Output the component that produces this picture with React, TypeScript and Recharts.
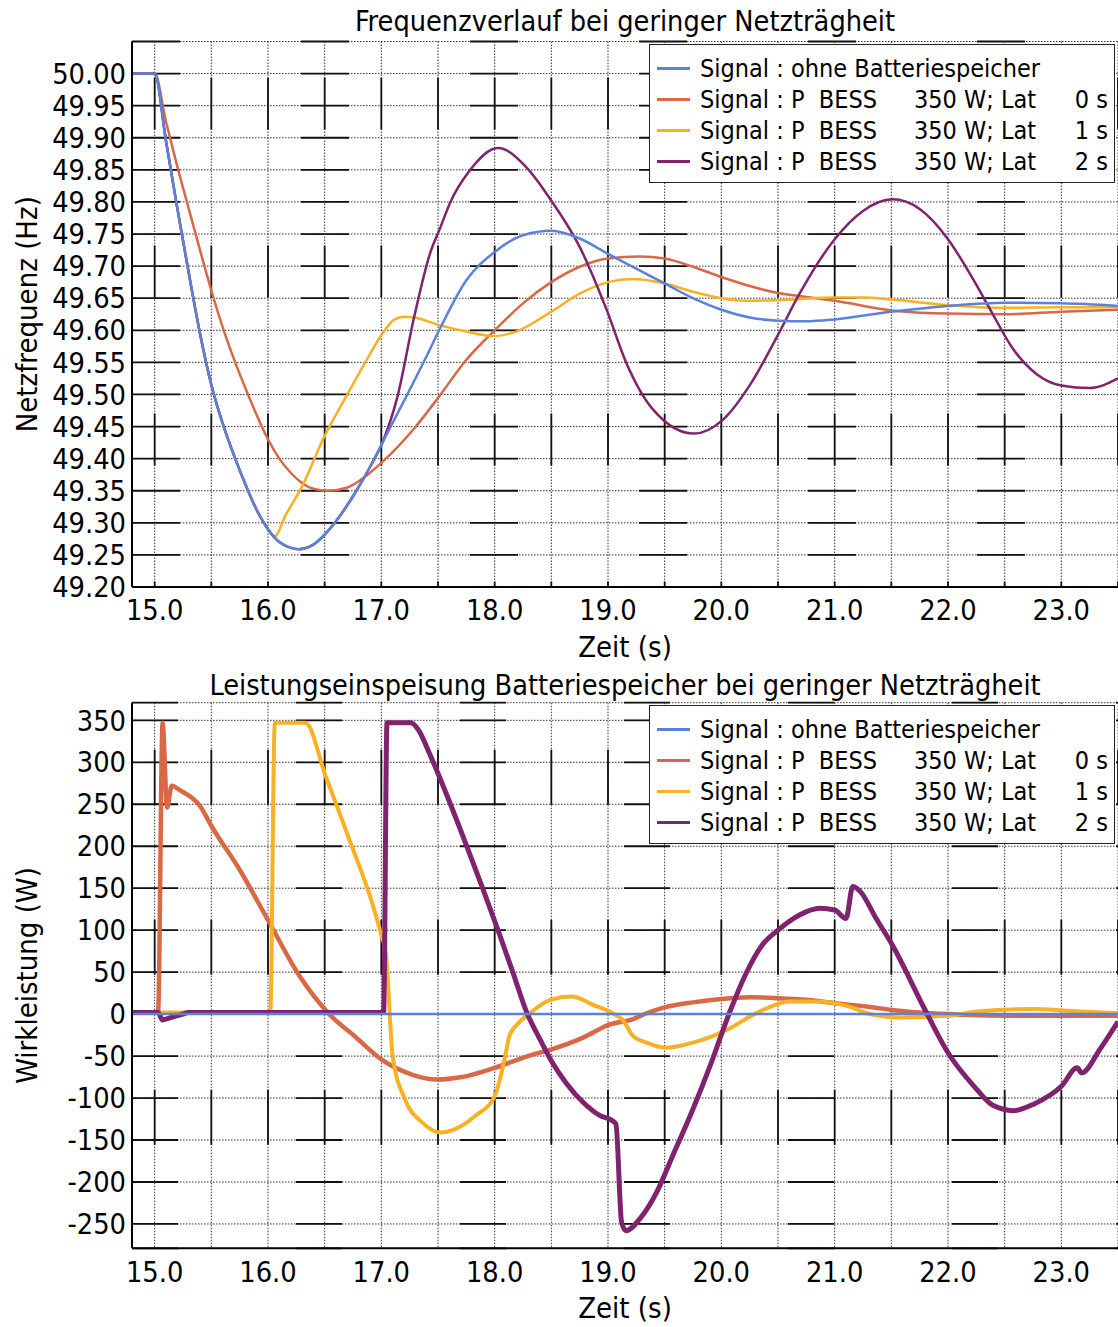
import { LineChart, Line, XAxis, YAxis, CartesianGrid, Legend } from "recharts";

const FONT = "'DejaVu Sans Condensed', 'DejaVu Sans', sans-serif";
const BLUE = "#5a82dc";
const ORANGE = "#d96846";
const YELLOW = "#f9b023";
const PURPLE = "#80236e";

// ---- Frequenzverlauf (Hz) ----
const fTimeOhne = [14.8, 15.0, 15.1, 15.2, 15.3, 15.4, 15.5, 15.6, 15.7, 15.8, 15.9, 16.0, 16.1, 16.27, 16.4, 16.58, 16.78, 16.9, 17.01, 17.2, 17.4, 17.51, 17.75, 18.0, 18.25, 18.5, 18.75, 19.0, 19.25, 19.5, 19.75, 20.0, 20.25, 20.5, 20.75, 21.0, 21.5, 22.0, 22.5, 23.0, 23.5];
const fOhne = [50.0, 50.0, 49.895, 49.79, 49.69, 49.595, 49.515, 49.455, 49.405, 49.36, 49.32, 49.29, 49.27, 49.259, 49.266, 49.298, 49.35, 49.387, 49.425, 49.49, 49.56, 49.6, 49.678, 49.722, 49.748, 49.755, 49.743, 49.719, 49.696, 49.673, 49.65, 49.632, 49.62, 49.615, 49.614, 49.617, 49.629, 49.638, 49.643, 49.642, 49.638];

const fTimeLat0 = [14.8, 15.0, 15.1, 15.2, 15.3, 15.4, 15.5, 15.6, 15.7, 15.8, 15.9, 16.0, 16.1, 16.2, 16.3, 16.4, 16.53, 16.7, 16.81, 17.01, 17.29, 17.51, 17.75, 18.0, 18.25, 18.5, 18.75, 19.0, 19.28, 19.5, 19.75, 20.0, 20.25, 20.5, 20.75, 21.0, 21.5, 22.0, 22.5, 23.0, 23.5];
const fLat0 = [50.0, 50.0, 49.925, 49.855, 49.79, 49.725, 49.662, 49.605, 49.555, 49.51, 49.468, 49.43, 49.4, 49.378, 49.362, 49.353, 49.35, 49.355, 49.366, 49.395, 49.447, 49.497, 49.554, 49.6, 49.642, 49.675, 49.699, 49.712, 49.715, 49.712, 49.699, 49.683, 49.669, 49.658, 49.652, 49.646, 49.631, 49.626, 49.625, 49.629, 49.632];

const fTimeLat1 = [14.8, 15.0, 15.1, 15.2, 15.3, 15.4, 15.5, 15.6, 15.7, 15.8, 15.9, 16.0, 16.06, 16.15, 16.31, 16.49, 16.7, 16.9, 17.01, 17.11, 17.2, 17.29, 17.51, 17.75, 18.0, 18.19, 18.5, 18.75, 19.0, 19.22, 19.5, 19.75, 20.0, 20.25, 20.5, 21.0, 21.25, 21.5, 22.0, 22.5, 23.0, 23.5];
const fLat1 = [50.0, 50.0, 49.895, 49.79, 49.69, 49.595, 49.515, 49.455, 49.405, 49.36, 49.32, 49.29, 49.279, 49.31, 49.36, 49.432, 49.5, 49.563, 49.595, 49.616, 49.621, 49.62, 49.608, 49.598, 49.591, 49.598, 49.629, 49.657, 49.675, 49.68, 49.673, 49.66, 49.65, 49.646, 49.647, 49.651, 49.651, 49.648, 49.639, 49.635, 49.636, 49.636];

const fTimeLat2 = [14.8, 15.0, 15.1, 15.2, 15.3, 15.4, 15.5, 15.6, 15.7, 15.8, 15.9, 16.0, 16.1, 16.27, 16.4, 16.58, 16.78, 16.9, 17.01, 17.14, 17.29, 17.43, 17.52, 17.61, 17.78, 18.03, 18.28, 18.5, 18.75, 18.99, 19.16, 19.4, 19.76, 20.01, 20.26, 20.5, 20.69, 21.0, 21.25, 21.51, 21.75, 22.0, 22.22, 22.38, 22.57, 22.78, 23.0, 23.25, 23.5];
const fLat2 = [50.0, 50.0, 49.895, 49.79, 49.69, 49.595, 49.515, 49.455, 49.405, 49.36, 49.32, 49.29, 49.27, 49.259, 49.266, 49.298, 49.35, 49.387, 49.425, 49.495, 49.621, 49.72, 49.76, 49.8, 49.849, 49.884, 49.854, 49.802, 49.73, 49.631, 49.55, 49.476, 49.439, 49.46, 49.517, 49.593, 49.657, 49.742, 49.786, 49.804, 49.789, 49.742, 49.68, 49.63, 49.572, 49.532, 49.514, 49.51, 49.525];

const fTicksY = [49.2, 49.25, 49.3, 49.35, 49.4, 49.45, 49.5, 49.55, 49.6, 49.65, 49.7, 49.75, 49.8, 49.85, 49.9, 49.95, 50.0];

// ---- Leistungseinspeisung (W) ----
const pTimeOhne = [14.8, 23.5];
const pOhne = [0, 0];

const pTimeLat0 = [14.8, 15.03, 15.07, 15.11, 15.15, 15.22, 15.4, 15.51, 15.75, 16.0, 16.28, 16.54, 16.77, 17.0, 17.27, 17.49, 17.71, 18.0, 18.34, 18.5, 18.78, 19.0, 19.22, 19.34, 19.5, 19.75, 20.0, 20.25, 20.5, 20.75, 21.0, 21.28, 21.5, 22.0, 22.5, 23.0, 23.5];
const pLat0 = [2, 2, 347, 246, 272, 267, 248, 222, 172, 112, 45, 0, -27, -54, -72, -78, -75, -64, -48, -42, -28, -13, -6, 1, 8, 14, 18, 20, 19, 17, 13, 9, 5, 0, -2, -2, -2];

const pTimeLat1 = [14.8, 16.02, 16.06, 16.33, 16.51, 16.74, 16.92, 17.0, 17.04, 17.1, 17.21, 17.36, 17.52, 17.65, 17.83, 18.0, 18.06, 18.1, 18.13, 18.2, 18.31, 18.49, 18.68, 18.87, 19.04, 19.13, 19.22, 19.34, 19.51, 19.69, 19.93, 20.1, 20.25, 20.4, 20.6, 20.84, 21.13, 21.31, 21.58, 22.0, 22.26, 22.76, 23.05, 23.5];
const pLat1 = [2, 2, 347, 347, 283, 200, 132, 94, 72, -50, -102, -129, -141, -137, -121, -98, -70, -45, -26, -12, 1, 17, 21, 11, 1, -7, -26, -34, -40, -36, -26, -15, -3, 7, 15, 15, 9, 0, -4, -2, 3, 6, 4, 1];

const pTimeLat2 = [14.8, 15.03, 15.07, 15.12, 15.25, 15.3, 17.02, 17.05, 17.26, 17.33, 17.42, 17.49, 17.74, 18.04, 18.16, 18.28, 18.4, 18.51, 18.63, 18.78, 18.93, 19.04, 19.07, 19.12, 19.16, 19.28, 19.43, 19.57, 19.75, 19.9, 20.07, 20.22, 20.37, 20.5, 20.69, 20.87, 21.0, 21.1, 21.16, 21.22, 21.37, 21.51, 21.79, 22.0, 22.23, 22.4, 22.58, 22.76, 23.0, 23.14, 23.18, 23.34, 23.5];
const pLat2 = [2, 2, -7, -5, 0, 2, 2, 347, 347, 338, 312, 290, 205, 96, 50, 3, -30, -58, -82, -105, -121, -127, -131, -248, -258, -244, -212, -169, -113, -62, 1, 49, 84, 100, 118, 126, 124, 114, 152, 147, 113, 82, 7, -46, -86, -109, -115, -107, -86, -64, -70, -42, -9];

const pTicksY = [-250, -200, -150, -100, -50, 0, 50, 100, 150, 200, 250, 300, 350];

const xTicks = [15, 15.5, 16, 16.5, 17, 17.5, 18, 18.5, 19, 19.5, 20, 20.5, 21, 21.5, 22, 22.5, 23, 23.5];

const legendRows = [
  { color: BLUE, a: "Signal : ohne Batteriespeicher", b: "", c: "" },
  { color: ORANGE, a: "Signal : P  BESS", b: "350 W; Lat", c: "0 s" },
  { color: YELLOW, a: "Signal : P  BESS", b: "350 W; Lat", c: "1 s" },
  { color: PURPLE, a: "Signal : P  BESS", b: "350 W; Lat", c: "2 s" },
];

const pts = (ts: number[], vs: number[]) => ts.map((t, i) => ({ t, v: vs[i] }));

// gepunktetes Raster plus durchgezogene Strichstuecke
function gridLine(period: number, dash: number, start: number) {
  return (p: any) => (
    <g key={p.key}>
      <line x1={p.x1} y1={p.y1} x2={p.x2} y2={p.y2} stroke="#333" strokeWidth={1} strokeDasharray="1.5 1.5" />
      <line
        x1={p.x1}
        y1={p.y1}
        x2={p.x2}
        y2={p.y2}
        stroke="#111"
        strokeWidth={1.8}
        strokeDasharray={`${dash} ${period - dash}`}
        strokeDashoffset={(period - start) % period}
      />
    </g>
  );
}

function LegendBox() {
  return (
    <div
      style={{
        position: "relative",
        width: 466,
        height: 139,
        boxSizing: "border-box",
        border: "1.5px solid #222",
        background: "#fff",
        fontFamily: FONT,
        fontSize: 25,
        color: "#000",
      }}
    >
      {legendRows.map((r, i) => (
        <div key={i} style={{ position: "absolute", left: 0, right: 0, top: 8 + i * 31, height: 31, lineHeight: "31px", whiteSpace: "pre" }}>
          <div style={{ position: "absolute", left: 7, top: 14, width: 33, height: 2.5, background: r.color }} />
          <span style={{ position: "absolute", left: 50 }}>{r.a}</span>
          <span style={{ position: "absolute", left: 264 }}>{r.b}</span>
          <span style={{ position: "absolute", right: 6 }}>{r.c}</span>
        </div>
      ))}
    </div>
  );
}

const tickStyle = { fontFamily: FONT, fontSize: 28.7, fill: "#000" };
const labelStyle = { fontFamily: FONT, fontSize: 29, fill: "#000" };
const xFmt = (v: number) => (v % 1 === 0 ? v.toFixed(1) : "");

export default function App() {
  return (
    <div style={{ position: "absolute", left: 0, top: 0, width: 1118, height: 1327, overflow: "hidden", background: "#fff", fontFamily: FONT }}>
      {/* oberes Diagramm */}
      <div style={{ position: "absolute", left: 0, top: 0 }}>
        <div style={{ position: "absolute", left: 132, width: 986, top: 5, textAlign: "center", fontSize: 28.6, lineHeight: "32px", zIndex: 2 }}>
          Frequenzverlauf bei geringer Netzträgheit
        </div>
        <LineChart width={1118} height={672} margin={{ top: 41.5, right: 0, bottom: 0, left: 0 }}>
          <CartesianGrid horizontal={gridLine(169, 48, 0)} vertical={gridLine(168, 52, 36)} />
          <XAxis
            dataKey="t"
            type="number"
            domain={[14.8, 23.5]}
            ticks={xTicks}
            interval={0}
            allowDataOverflow
            height={85}
            tickSize={0}
            tickMargin={13}
            tick={tickStyle}
            tickFormatter={xFmt}
            axisLine={{ stroke: "#000", strokeWidth: 2 }}
            label={{ value: "Zeit (s)", position: "center", dy: 17, style: labelStyle }}
          />
          <XAxis xAxisId="top" orientation="top" type="number" domain={[14.8, 23.5]} height={0} tick={false} tickLine={false} axisLine={{ stroke: "#444", strokeWidth: 1.2 }} />
          <YAxis
            type="number"
            domain={[49.2, 50.05]}
            ticks={fTicksY}
            interval={0}
            allowDataOverflow
            width={132}
            tickSize={0}
            tickMargin={6}
            tick={tickStyle}
            tickFormatter={(v: number) => v.toFixed(2)}
            axisLine={{ stroke: "#000", strokeWidth: 2 }}
            label={{ value: "Netzfrequenz (Hz)", angle: -90, position: "center", dx: -39, style: labelStyle }}
          />
          <Legend layout="vertical" align="center" verticalAlign="middle" wrapperStyle={{ left: 649, top: 44, width: 466 }} content={() => <LegendBox />} />
          <Line data={pts(fTimeLat0, fLat0)} dataKey="v" type="monotone" stroke={ORANGE} strokeWidth={2.5} dot={false} isAnimationActive={false} />
          <Line data={pts(fTimeLat1, fLat1)} dataKey="v" type="monotone" stroke={YELLOW} strokeWidth={2.5} dot={false} isAnimationActive={false} />
          <Line data={pts(fTimeLat2, fLat2)} dataKey="v" type="monotone" stroke={PURPLE} strokeWidth={2.5} dot={false} isAnimationActive={false} />
          <Line data={pts(fTimeOhne, fOhne)} dataKey="v" type="monotone" stroke={BLUE} strokeWidth={2.5} dot={false} isAnimationActive={false} />
        </LineChart>
      </div>

      {/* unteres Diagramm */}
      <div style={{ position: "absolute", left: 0, top: 662 }}>
        <div style={{ position: "absolute", left: 132, width: 986, top: 7, textAlign: "center", fontSize: 28.6, lineHeight: "32px", zIndex: 2 }}>
          Leistungseinspeisung Batteriespeicher bei geringer Netzträgheit
        </div>
        <LineChart width={1118} height={665} margin={{ top: 40.7, right: 0, bottom: 0, left: 0 }}>
          <CartesianGrid horizontal={gridLine(164, 46, 0)} vertical={gridLine(170, 55, 47)} />
          <XAxis
            dataKey="t"
            type="number"
            domain={[14.8, 23.5]}
            ticks={xTicks}
            interval={0}
            allowDataOverflow
            height={78.7}
            tickSize={0}
            tickMargin={13}
            tick={tickStyle}
            tickFormatter={xFmt}
            axisLine={{ stroke: "#000", strokeWidth: 2 }}
            label={{ value: "Zeit (s)", position: "center", dy: 20, style: labelStyle }}
          />
          <XAxis xAxisId="top" orientation="top" type="number" domain={[14.8, 23.5]} height={0} tick={false} tickLine={false} axisLine={{ stroke: "#444", strokeWidth: 1.2 }} />
          <YAxis
            type="number"
            domain={[-279, 371]}
            ticks={pTicksY}
            interval={0}
            allowDataOverflow
            width={132}
            tickSize={0}
            tickMargin={6}
            tick={tickStyle}
            axisLine={{ stroke: "#000", strokeWidth: 2 }}
            label={{ value: "Wirkleistung (W)", angle: -90, position: "center", dx: -39, style: labelStyle }}
          />
          <Legend layout="vertical" align="center" verticalAlign="middle" wrapperStyle={{ left: 649, top: 43, width: 466 }} content={() => <LegendBox />} />
          <Line data={pts(pTimeLat0, pLat0)} dataKey="v" type="monotone" stroke={ORANGE} strokeWidth={4.5} dot={false} isAnimationActive={false} />
          <Line data={pts(pTimeLat1, pLat1)} dataKey="v" type="monotone" stroke={YELLOW} strokeWidth={4} dot={false} isAnimationActive={false} />
          <Line data={pts(pTimeLat2, pLat2)} dataKey="v" type="monotone" stroke={PURPLE} strokeWidth={5} dot={false} isAnimationActive={false} />
          <Line data={pts(pTimeOhne, pOhne)} dataKey="v" type="linear" stroke={BLUE} strokeWidth={2.5} dot={false} isAnimationActive={false} />
        </LineChart>
      </div>
    </div>
  );
}
